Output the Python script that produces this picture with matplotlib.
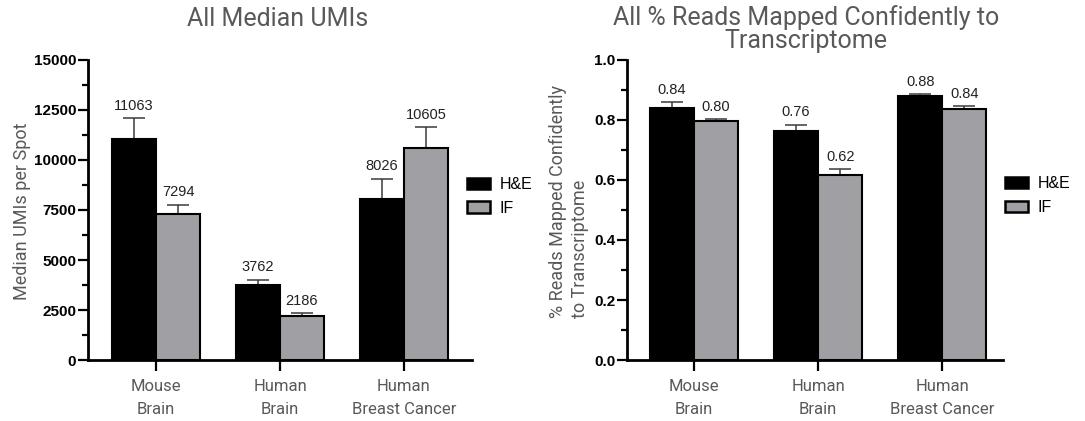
import numpy as np
import matplotlib
matplotlib.use("Agg")
import matplotlib.pyplot as plt
from matplotlib.patches import Patch
from matplotlib.ticker import MultipleLocator, FormatStrFormatter

# data
categories = ["Mouse\nBrain", "Human\nBrain", "Human\nBreast Cancer"]
series = ["H&E", "IF"]

umi_he = [11063, 3762, 8026]
umi_if = [7294, 2186, 10605]
umi_he_err = [1025, 260, 1035]
umi_if_err = [480, 140, 1020]

map_he = [0.840, 0.763, 0.880]
map_if = [0.796, 0.617, 0.836]
map_he_err = [0.019, 0.021, 0.006]
map_if_err = [0.006, 0.019, 0.009]

# styling
text_gray = "#58595b"
bar_gray = "#a0a0a4"
title_font = "Roboto"
num_font = "Liberation Sans"

fig = plt.figure(figsize=(10.85, 4.21), dpi=100)

ax1 = fig.add_axes([88/1085, 1-360/421, 384/1085, 300/421])
ax2 = fig.add_axes([627/1085, 1-360/421, 376/1085, 300/421])

x = np.arange(len(categories))
w = 0.355


def style_yticks(ax):
    for lab in ax.get_yticklabels():
        lab.set_fontweight("bold")
        lab.set_fontsize(11)
        lab.set_family(num_font)


def draw(ax, he, iff, he_err, if_err, fmt, xlim, ylim, major, minor):
    ax.bar(x - w/2, he, w, color="black", edgecolor="black", linewidth=1.5, zorder=2)
    ax.bar(x + w/2, iff, w, color=bar_gray, edgecolor="black", linewidth=1.5, zorder=2)
    for pos, vals, errs in [(x - w/2, he, he_err), (x + w/2, iff, if_err)]:
        # one-sided (upper) error bars
        ax.errorbar(pos, vals, yerr=[np.zeros(len(vals)), errs], fmt="none",
                    ecolor="#3a3a3a", elinewidth=1.1, capsize=8, capthick=1.1, zorder=1)
        for xi, v, e in zip(pos, vals, errs):
            ax.annotate(fmt(v), (xi, v + e), xytext=(0, 4), textcoords="offset points",
                        ha="center", va="bottom", fontsize=10.5, family=num_font, color="#222222")
    ax.set_xlim(*xlim)
    ax.set_ylim(*ylim)
    ax.yaxis.set_major_locator(MultipleLocator(major))
    ax.yaxis.set_minor_locator(MultipleLocator(minor))
    ax.set_xticks(x)
    ax.set_xticklabels(categories, fontsize=12, family=title_font, color=text_gray, linespacing=1.6)
    for s in ["top", "right"]:
        ax.spines[s].set_visible(False)
    for s in ["left", "bottom"]:
        ax.spines[s].set_linewidth(2)
    ax.tick_params(axis="y", which="major", length=7, width=1.6, pad=1.5)
    ax.tick_params(axis="y", which="minor", length=4.5, width=1.6)
    ax.tick_params(axis="x", length=8, width=1.6, pad=6)


draw(ax1, umi_he, umi_if, umi_he_err, umi_if_err, lambda v: f"{v:d}",
     (-0.55, 2.55), (0, 15000), 2500, 1250)
draw(ax2, map_he, map_if, map_he_err, map_if_err, lambda v: f"{v:.2f}",
     (-0.54, 2.49), (0, 1.0), 0.2, 0.1)
ax2.yaxis.set_major_formatter(FormatStrFormatter("%.1f"))
style_yticks(ax1)
style_yticks(ax2)

ax1.set_ylabel("Median UMIs per Spot", fontsize=13, family=title_font, color=text_gray, va="center")
ax1.yaxis.set_label_coords(-0.172, 0.497)
ax2.set_ylabel("% Reads Mapped Confidently\nto Transcriptome", fontsize=13, family=title_font,
               color=text_gray, va="center", linespacing=1.25, multialignment="left")
ax2.yaxis.set_label_coords(-0.154, 0.527)

fig.text(278/1085, 1-19/421, "All Median UMIs", fontsize=18, family=title_font,
         color=text_gray, ha="center", va="center")
fig.text(806/1085, 1-29/421, "All % Reads Mapped Confidently to\nTranscriptome", fontsize=18,
         family=title_font, color=text_gray, ha="center", va="center", linespacing=0.95)

handles = [Patch(facecolor="black", edgecolor="black", linewidth=1.8),
           Patch(facecolor=bar_gray, edgecolor="black", linewidth=1.8)]
for ax, bx, by in [(ax1, 0.987, 0.545), (ax2, 1.005, 0.548)]:
    ax.legend(handles, series, loc="center left", bbox_to_anchor=(bx, by), frameon=False,
              borderpad=0, borderaxespad=0, handlelength=1.45, handleheight=0.75,
              handletextpad=0.6, labelspacing=0.55,
              prop={"family": num_font, "size": 11.5})

fig.savefig("out.png", dpi=100)
